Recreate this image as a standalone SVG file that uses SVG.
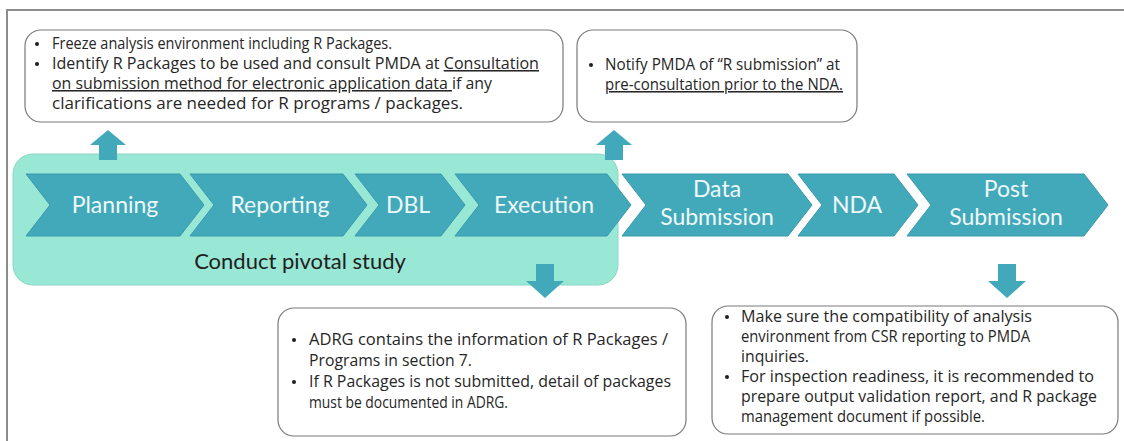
<svg xmlns="http://www.w3.org/2000/svg" width="1124" height="441" viewBox="0 0 1124 441">
<style>
.frame{fill:none;stroke:#8c8c8c;stroke-width:2}
.bubble{fill:#ffffff;stroke:#7a7a7a;stroke-width:1.2}
.band{fill:#99e7d5;stroke:#8ad6c4;stroke-width:1}
.chev{fill:#42a9bb;stroke:#3a9aac;stroke-width:1}
.arrow{fill:#42a9bb}
.ct{font-family:Lato,"Open Sans","Liberation Sans",sans-serif;font-size:23px;fill:#eef8f9;text-anchor:middle}
.bt{font-family:"Open Sans",Lato,"Liberation Sans",sans-serif;font-size:15.5px;fill:#262626}
.lbl{font-family:Lato,"Open Sans","Liberation Sans",sans-serif;font-size:22px;fill:#1e1e1e;text-anchor:middle}
.dot{fill:#1e1e1e}
</style>
<rect class="frame" x="7" y="10" width="1130" height="450"/>

<g id="note-top-left">
<rect class="bubble" x="25" y="30" width="538" height="92" rx="16"/>
<circle class="dot" cx="37" cy="44" r="2"/>
<circle class="dot" cx="37" cy="64" r="2"/>
<text class="bt" x="52" y="49" textLength="340" lengthAdjust="spacingAndGlyphs">Freeze analysis environment including R Packages.</text>
<text class="bt" x="52" y="69" textLength="487" lengthAdjust="spacingAndGlyphs">Identify R Packages to be used and consult PMDA at <tspan text-decoration="underline">Consultation</tspan></text>
<text class="bt" x="52" y="89" textLength="440" lengthAdjust="spacingAndGlyphs"><tspan text-decoration="underline">on submission method for electronic application data </tspan>if any</text>
<text class="bt" x="52" y="109" textLength="411" lengthAdjust="spacingAndGlyphs">clarifications are needed for R programs / packages.</text>
</g>

<g id="note-top-right">
<rect class="bubble" x="577" y="30" width="280" height="92" rx="16"/>
<circle class="dot" cx="591" cy="65" r="2"/>
<text class="bt" x="605" y="70" textLength="235" lengthAdjust="spacingAndGlyphs">Notify PMDA of “R submission” at</text>
<text class="bt" x="605" y="90" textLength="238" lengthAdjust="spacingAndGlyphs" text-decoration="underline">pre-consultation prior to the NDA.</text>
</g>

<g id="pivotal-study">
<rect class="band" x="13" y="154" width="605" height="131" rx="20"/>
<text class="lbl" x="300" y="269">Conduct pivotal study</text>
</g>

<g id="planning">
<polygon class="chev" points="26,174 180,174 204,205 180,236 26,236 50,205"/>
<text class="ct" x="115" y="213">Planning</text>
</g>
<g id="reporting">
<polygon class="chev" points="190,174 343,174 367,205 343,236 190,236 214,205"/>
<text class="ct" x="280" y="213">Reporting</text>
</g>
<g id="dbl">
<polygon class="chev" points="355,174 441,174 465,205 441,236 355,236 379,205"/>
<text class="ct" x="408" y="213">DBL</text>
</g>
<g id="execution">
<polygon class="chev" points="455,174 607,174 631,205 607,236 455,236 479,205"/>
<text class="ct" x="544" y="213">Execution</text>
</g>
<g id="data-submission">
<polygon class="chev" points="622,174 788,174 812,205 788,236 622,236 646,205"/>
<text class="ct" x="717" y="197">Data</text>
<text class="ct" x="717" y="225">Submission</text>
</g>
<g id="nda">
<polygon class="chev" points="798,174 894,174 918,205 894,236 798,236 822,205"/>
<text class="ct" x="857" y="213">NDA</text>
</g>
<g id="post-submission">
<polygon class="chev" points="907,174 1084,174 1108,205 1084,236 907,236 931,205"/>
<text class="ct" x="1006" y="197">Post</text>
<text class="ct" x="1006" y="225">Submission</text>
</g>

<g id="connectors">
<polygon class="arrow" points="108,130 126,145 117,145 117,160 99,160 99,145 90,145"/>
<polygon class="arrow" points="614,130 632,145 623,145 623,160 605,160 605,145 596,145"/>
<polygon class="arrow" points="536,264 554,264 554,281 564,281 545,298 526,281 536,281"/>
<polygon class="arrow" points="998,264 1016,264 1016,281 1026,281 1007,298 988,281 998,281"/>
</g>

<g id="note-bottom-left">
<rect class="bubble" x="278" y="308" width="408" height="128" rx="16"/>
<circle class="dot" cx="294" cy="340" r="2"/>
<circle class="dot" cx="294" cy="382" r="2"/>
<text class="bt" x="309" y="345" textLength="359" lengthAdjust="spacingAndGlyphs">ADRG contains the information of R Packages /</text>
<text class="bt" x="309" y="366" textLength="163" lengthAdjust="spacingAndGlyphs">Programs in section 7.</text>
<text class="bt" x="309" y="387" textLength="362" lengthAdjust="spacingAndGlyphs">If R Packages is not submitted, detail of packages</text>
<text class="bt" x="309" y="408" textLength="199" lengthAdjust="spacingAndGlyphs">must be documented in ADRG.</text>
</g>

<g id="note-bottom-right">
<rect class="bubble" x="712" y="306" width="406" height="128" rx="16"/>
<circle class="dot" cx="727" cy="317" r="2"/>
<circle class="dot" cx="727" cy="377" r="2"/>
<text class="bt" x="741" y="322" textLength="291" lengthAdjust="spacingAndGlyphs">Make sure the compatibility of analysis</text>
<text class="bt" x="741" y="342" textLength="289" lengthAdjust="spacingAndGlyphs">environment from CSR reporting to PMDA</text>
<text class="bt" x="741" y="362" textLength="68" lengthAdjust="spacingAndGlyphs">inquiries.</text>
<text class="bt" x="741" y="382" textLength="353" lengthAdjust="spacingAndGlyphs">For inspection readiness, it is recommended to</text>
<text class="bt" x="741" y="402" textLength="356" lengthAdjust="spacingAndGlyphs">prepare output validation report, and R package</text>
<text class="bt" x="741" y="422" textLength="244" lengthAdjust="spacingAndGlyphs">management document if possible.</text>
</g>
</svg>
